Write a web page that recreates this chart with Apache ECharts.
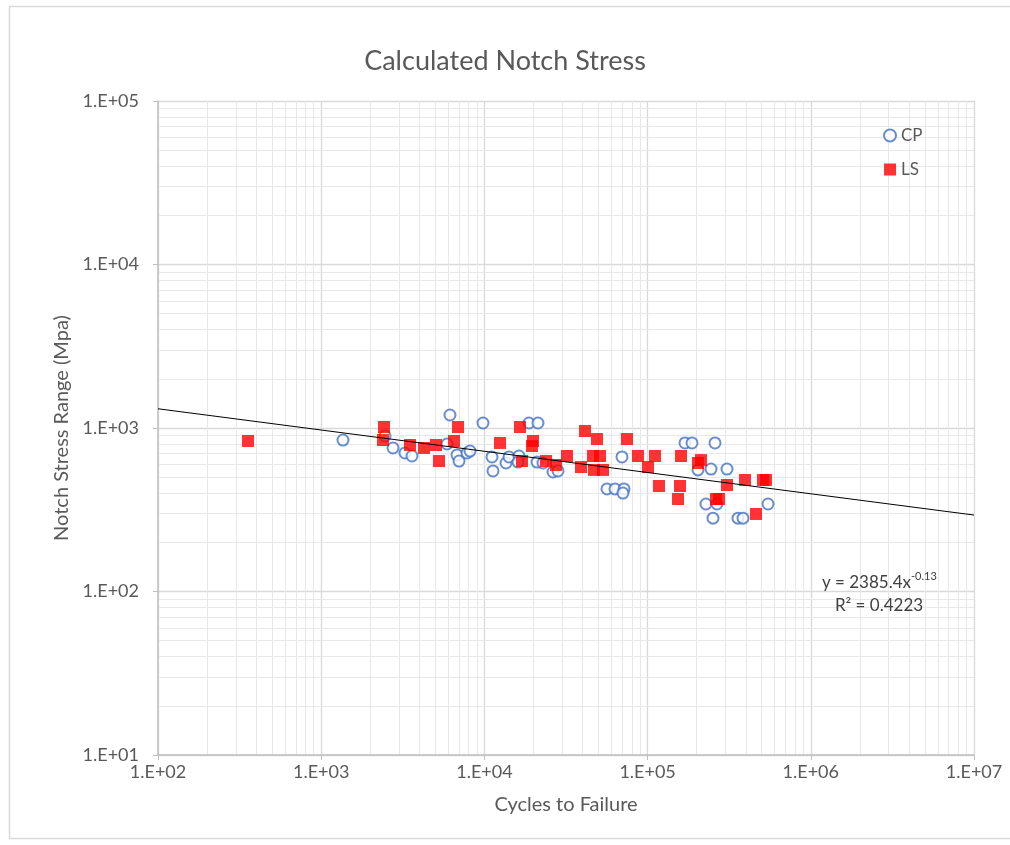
<!DOCTYPE html>
<html>
<head>
<meta charset="utf-8">
<script src="https://cdn.jsdelivr.net/npm/echarts@6/dist/echarts.min.js"></script>
<style>html,body{margin:0;padding:0;background:#fff}#c{width:1010px;height:845px}</style>
</head>
<body>
<div id="c"></div>
<script>
// ---- data ----
const cpCycles = [1360,2459,2754,3262,3601,6153,5901,6795,6990,7824,8163,9804,11134,11290,13565,14148,16293,16069,18758,21301,21004,22865,26330,28248,69661,56388,63126,71690,70654,169500,187100,258800,203600,244600,306600,227900,266200,251600,358000,384200,546800];
const cpStress = [844,894,755,703,674,1201,798,684,628,703,723,1073,665,546,611,665,674,619,1073,1073,619,611,538,546,665,424,424,424,400,810,810,810,554,561,561,343,343,281,281,281,343];
const lsCycles = [356,2425,2391,3501,4266,5051,5271,6510,6889,12463,16520,19851,19573,16995,23851,27466,32080,39085,41345,48978,46289,51089,46951,53294,74780,87340,100580,110990,117490,157900,153600,160200,203600,212400,262500,273900,306600,395300,509400,531400,461500];
const lsStress = [833,1014,844,787,755,787,628,833,1014,810,1014,833,776,628,628,594,674,577,959,856,674,674,554,554,856,674,577,674,442,442,368,674,611,636,368,368,448,481,481,481,298];
const trendCoef = [2385.4, -0.13];   // y = a * x^b
const trendR2 = 0.4223;
const xRange = [100, 10000000];
const yRange = [10, 100000];
const xTickLabels = ['1.E+02','1.E+03','1.E+04','1.E+05','1.E+06','1.E+07'];
const yTickLabels = ['1.E+01','1.E+02','1.E+03','1.E+04','1.E+05'];

// ---- build ----
const cpData = cpCycles.map((x,i)=>[x,cpStress[i]]);
const lsData = lsCycles.map((x,i)=>[x,lsStress[i]]);
const trendData = xRange.map(x=>[x, trendCoef[0]*Math.pow(x,trendCoef[1])]);
function minorVals(lo,hi){const out=[];for(let d=lo;d<hi;d*=10){for(let k=2;k<=9;k++)out.push(d*k);}return out;}
const xMinor = minorVals(xRange[0],xRange[1]).map(v=>({xAxis:v}));
const yMinor = minorVals(yRange[0],yRange[1]).map(v=>({yAxis:v}));
const fmtX = v=>xTickLabels[Math.round(Math.log10(v))-2] || '';
const fmtY = v=>yTickLabels[Math.round(Math.log10(v))-1] || '';
const FONT = 'Lato';
const grey = '#595959';
const cpStyle = {color:'#fff',borderColor:'#4472c4',borderWidth:2,borderType:'solid'};
const lsStyle = {color:'#ff0000',borderWidth:0};
const labelStyle = {fontFamily:FONT,fontSize:18,color:grey};
const minorLine = {silent:true,symbol:'none',animation:false,z:0,zlevel:0,label:{show:false},
  emphasis:{disabled:true},lineStyle:{color:'#e8e8e8',width:1,type:'solid'}};

const chart = echarts.init(document.getElementById('c'), null, {renderer:'canvas'});
chart.setOption({
  animation:false,
  backgroundColor:'#fff',
  textStyle:{fontFamily:FONT},
  title:{text:'Calculated Notch Stress',left:'center',top:43,
    textStyle:{fontFamily:FONT,fontSize:27,fontWeight:'normal',color:grey}},
  grid:{left:158,top:101,width:816,height:654,containLabel:false},
  legend:{orient:'vertical',left:878,top:122,itemGap:17,itemWidth:12,itemHeight:12,z:20,
    textStyle:{fontFamily:FONT,fontSize:17,color:grey},
    data:[{name:'CP',icon:'circle',itemStyle:cpStyle},{name:'LS',icon:'rect',itemStyle:lsStyle}]},
  xAxis:{type:'log',logBase:10,min:xRange[0],max:xRange[1],
    name:'Cycles to Failure',nameLocation:'middle',nameGap:40,
    nameTextStyle:{fontFamily:FONT,fontSize:20,color:grey},
    axisLine:{show:true,lineStyle:{color:'#bfbfbf',width:1.5}},
    axisTick:{show:true,length:5,lineStyle:{color:'#bfbfbf'}},
    axisLabel:Object.assign({formatter:fmtX,margin:8},labelStyle),
    splitLine:{show:true,lineStyle:{color:'#d9d9d9',width:1.3}},
    minorTick:{show:false},minorSplitLine:{show:false}},
  yAxis:{type:'log',logBase:10,min:yRange[0],max:yRange[1],
    name:'Notch Stress Range (Mpa)',nameLocation:'middle',nameGap:85,
    nameTextStyle:{fontFamily:FONT,fontSize:20,color:grey},
    axisLine:{show:true,lineStyle:{color:'#bfbfbf',width:1.5}},
    axisTick:{show:true,length:5,lineStyle:{color:'#bfbfbf'}},
    axisLabel:Object.assign({formatter:fmtY,margin:19},labelStyle),
    splitLine:{show:true,lineStyle:{color:'#d9d9d9',width:1.3}},
    minorTick:{show:false},minorSplitLine:{show:false}},
  series:[
    {name:'minorX',type:'line',data:[],z:0,silent:true,
      markLine:Object.assign({data:xMinor},minorLine)},
    {name:'minorY',type:'line',data:[],z:0,silent:true,
      markLine:Object.assign({data:yMinor},minorLine)},
    {name:'CP',type:'scatter',data:cpData,symbol:'circle',symbolSize:11,z:7,
      itemStyle:cpStyle},
    {name:'LS',type:'scatter',data:lsData,symbol:'rect',symbolSize:12,z:8,
      itemStyle:lsStyle},
    {name:'trend',type:'line',data:trendData,showSymbol:false,symbol:'none',z:9,
      lineStyle:{color:'#000',width:1},silent:true}
  ],
  graphic:[
    {type:'rect',shape:{x:9.5,y:6.5,width:1010,height:832},z:-10,
      style:{fill:null,stroke:'#d9d9d9',lineWidth:1.5},silent:true},
    {type:'text',x:911,y:591,z:10,
      style:{text:'y = '+trendCoef[0].toFixed(1)+'x',align:'right',verticalAlign:'bottom',
        fontFamily:FONT,fontSize:17,fill:'#404040'}},
    {type:'text',x:911,y:571,z:10,
      style:{text:trendCoef[1].toFixed(2),align:'left',verticalAlign:'top',
        fontFamily:FONT,fontSize:11,fill:'#404040'}},
    {type:'text',x:879,y:606,z:10,
      style:{text:'R² = '+trendR2.toFixed(4),align:'center',verticalAlign:'middle',
        fontFamily:FONT,fontSize:17,fill:'#404040'}}
  ]
});
</script>
</body>
</html>
